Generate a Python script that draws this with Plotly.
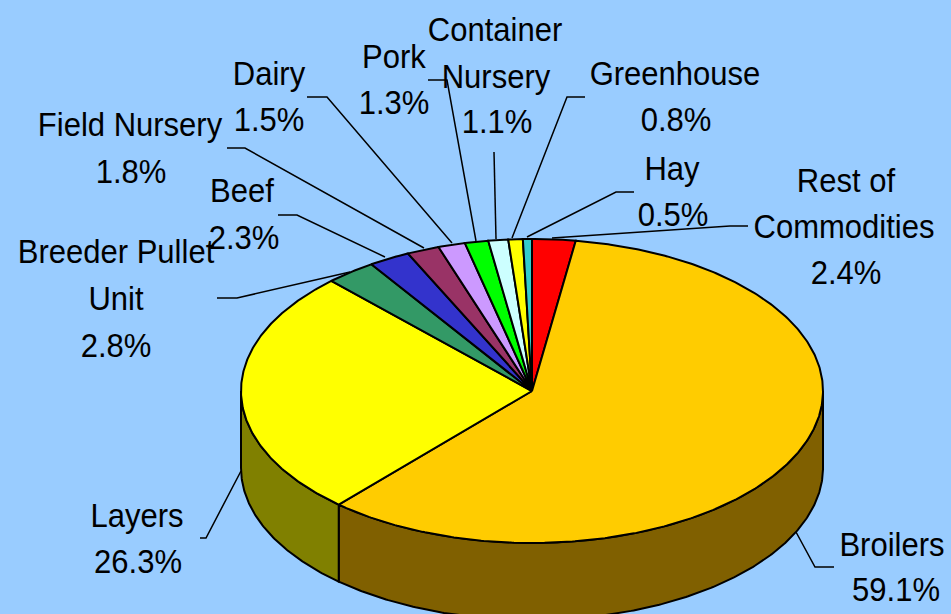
import numpy as np
import plotly.graph_objects as go

categories = ["Rest of Commodities", "Broilers", "Layers", "Breeder Pullet Unit", "Beef",
              "Field Nursery", "Dairy", "Pork", "Container Nursery", "Greenhouse", "Hay"]
values = [2.4, 59.1, 26.3, 2.8, 2.3, 1.8, 1.5, 1.3, 1.1, 0.8, 0.5]
colors = ["#FF0000", "#FFCC00", "#FFFF00", "#339966", "#3333CC", "#993366",
          "#CC99FF", "#00FF00", "#CCFFFF", "#FFFF00", "#33CCCC"]
side_colors = ["#800000", "#806000", "#808000", "#1A4D33", "#1A1A66", "#4D1A33",
               "#664D80", "#008000", "#668080", "#808000", "#1A6666"]

CX, CY, RX, RY, DEPTH = 532, 391, 291, 152, 77
BG = "#99CCFF"

label_lines = {
    "Rest of Commodities": [("Rest of", 846, 184), ("Commodities", 844, 230), (None, 846, 276)],
    "Broilers": [("Broilers", 892, 548), (None, 896, 593)],
    "Layers": [("Layers", 137, 519), (None, 138, 565)],
    "Breeder Pullet Unit": [("Breeder Pullet", 116, 255), ("Unit", 116, 302), (None, 116, 349)],
    "Beef": [("Beef", 242, 194), (None, 244, 241)],
    "Field Nursery": [("Field Nursery", 130, 128), (None, 131, 175)],
    "Dairy": [("Dairy", 269, 77), (None, 269, 123)],
    "Pork": [("Pork", 394, 60), (None, 394, 106)],
    "Container Nursery": [("Container", 495, 33), ("Nursery", 496, 80), (None, 497, 125)],
    "Greenhouse": [("Greenhouse", 675, 77), (None, 676, 123)],
    "Hay": [("Hay", 672, 172), (None, 673, 218)],
}
leaders = [
    [(552, 238), (730, 226), (748, 226)],
    [(796, 532), (815, 567), (834, 567)],
    [(241, 471), (206, 538), (200, 538)],
    [(350, 272), (237, 298), (217, 298)],
    [(385, 257), (297, 215), (278, 215)],
    [(424, 248), (245, 148), (227, 148)],
    [(452, 243), (327, 97), (307, 97)],
    [(476, 241), (447, 80), (428, 80)],
    [(496, 239), (494, 152)],
    [(512, 238), (567, 97), (585, 97)],
    [(527, 237), (616, 192), (634, 192)],
]


def rim(a, b, drop=0.0):
    t = np.radians(np.linspace(a, b, max(3, int(abs(b - a) * 2) + 1)))
    return CX + RX * np.sin(t), CY - RY * np.cos(t) + drop


total = sum(values)
edges = np.concatenate([[0], np.cumsum(values)]) / total * 360

fig = go.Figure()
outline = dict(color="black", width=2)

# side walls: only the front half of the drum shows
for i in range(len(values)):
    a, b = max(edges[i], 90), min(edges[i + 1], 270)
    if b <= a:
        continue
    tx, ty = rim(a, b)
    bx, by = rim(b, a, DEPTH)
    fig.add_trace(go.Scatter(x=np.r_[tx, bx, tx[0]], y=np.r_[ty, by, ty[0]], mode="lines",
                             fill="toself", fillcolor=side_colors[i], line=outline,
                             hoverinfo="skip", showlegend=False))

# top face
for i in range(len(values)):
    tx, ty = rim(edges[i], edges[i + 1])
    fig.add_trace(go.Scatter(x=np.r_[CX, tx, CX], y=np.r_[CY, ty, CY], mode="lines",
                             fill="toself", fillcolor=colors[i], line=outline,
                             name=categories[i], hoverinfo="skip", showlegend=False))

# leader lines
for pts in leaders:
    fig.add_trace(go.Scatter(x=[p[0] for p in pts], y=[p[1] for p in pts], mode="lines",
                             line=dict(color="black", width=1.5),
                             hoverinfo="skip", showlegend=False))

# labels
tx, ty, tt = [], [], []
for cat, val in zip(categories, values):
    for text, x, y in label_lines[cat]:
        tx.append(x)
        ty.append(y)
        tt.append(text if text is not None else f"{val}%")
fig.add_trace(go.Scatter(x=tx, y=ty, text=tt, mode="text", textposition="middle center",
                         textfont=dict(family="Liberation Sans", size=33, color="black"),
                         cliponaxis=False, hoverinfo="skip", showlegend=False))

fig.update_layout(
    width=951, height=614, margin=dict(l=0, r=0, t=0, b=0),
    paper_bgcolor=BG, plot_bgcolor=BG,
    xaxis=dict(range=[0, 951], visible=False, fixedrange=True),
    yaxis=dict(range=[614, 0], visible=False, fixedrange=True),
)
# page flush to the window; labels squeezed horizontally like the original's narrow type
post = """
document.body.style.margin = '0';
document.body.style.background = '#99CCFF';
document.querySelectorAll('.textpoint text').forEach(function (el) {
  var x = parseFloat(el.getAttribute('x'));
  var old = el.getAttribute('transform') || '';
  el.setAttribute('transform', 'translate(' + x + ',0) scale(0.94,1) translate(' + (-x) + ',0) ' + old);
});
"""
fig.write_html("out.html", post_script=post, config={"displayModeBar": False})
